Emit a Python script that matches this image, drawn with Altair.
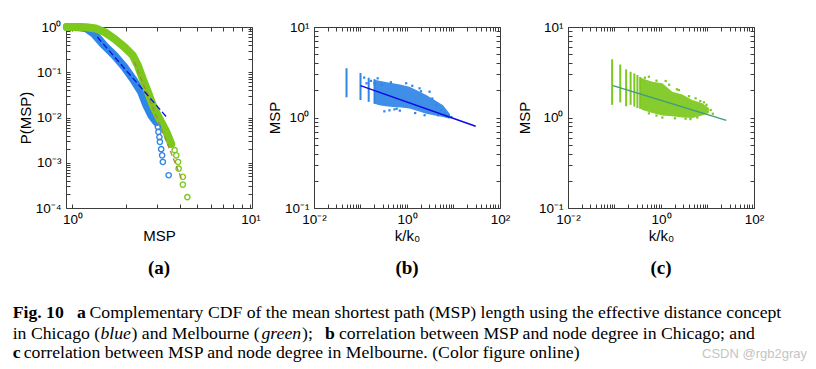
import altair as alt
import pandas as pd

# ---------------- Panel (a): complementary CDF of MSP ----------------
a_blue_msp = [0.93, 1.0, 1.1, 1.2, 1.32, 1.51, 1.72, 1.96, 2.18, 2.43, 2.60, 2.77, 2.96]
a_blue_p = [1.0, 1.0, 0.99, 0.93, 0.71, 0.39, 0.237, 0.13, 0.072, 0.037, 0.0186, 0.0112, 0.0079]
a_blue_tail_msp = [3.02, 3.04, 3.08, 3.10, 3.15, 3.19, 3.22, 3.47]
a_blue_tail_p = [0.0062, 0.0048, 0.0037, 0.0029, 0.0020, 0.00146, 0.00104, 0.00053]

a_green_msp = [0.93, 1.0, 1.2, 1.35, 1.51, 1.72, 1.96, 2.18, 2.33, 2.48, 2.65, 2.83, 3.08, 3.37, 3.59]
a_green_p = [1.0, 1.0, 0.99, 0.93, 0.78, 0.55, 0.36, 0.237, 0.142, 0.072, 0.037, 0.0186, 0.0094, 0.0048, 0.0026]
a_green_tail_msp = [3.75, 3.83, 3.92, 3.95, 4.17, 4.17, 4.42]
a_green_tail_p = [0.0019, 0.00146, 0.00104, 0.00074, 0.00049, 0.00033, 0.000174]

a_blue_fit_msp = [1.38, 3.44]
a_blue_fit_p = [0.6, 0.0094]
a_green_fit_msp = [2.23, 4.09]
a_green_fit_p = [0.168, 0.00045]

# ---------------- Panel (b): Chicago MSP vs k/k0 ----------------
b_stripe_k = [0.05, 0.10, 0.15, 0.20]
b_stripe_lo = [1.67, 1.56, 1.49, 1.42]
b_stripe_hi = [3.50, 3.10, 2.75, 2.65]
b_env_k = [0.2, 0.254, 0.35, 0.494, 0.75, 1.13, 1.7, 2.6, 4.0, 5.96, 8.3]
b_env_hi = [2.62, 2.54, 2.47, 2.39, 2.30, 2.19, 1.98, 1.77, 1.55, 1.37, 1.10]
b_env_lo = [1.42, 1.37, 1.33, 1.31, 1.29, 1.26, 1.18, 1.10, 1.05, 1.01, 0.97]
b_pts_k = [0.120, 0.135, 0.168, 0.198, 0.234, 0.290, 0.326, 0.419, 0.537, 0.96, 1.86, 3.06, 4.27, 5.48,
           7.04, 9.02, 4.64, 2.39, 1.3, 2.0, 3.5, 6.5, 8.0, 0.7, 1.5, 0.45, 0.6]
b_pts_msp = [2.76, 2.39, 2.54, 2.39, 2.71, 2.29, 1.17, 1.20, 1.23, 2.39, 2.10, 1.93, 1.37, 1.20,
             1.04, 1.01, 1.06, 1.06, 2.24, 1.95, 1.62, 1.12, 1.06, 1.19, 1.12, 2.45, 1.25]
b_fit_k = [0.1, 30.0]
b_fit_msp = [2.25, 0.80]

# ---------------- Panel (c): Melbourne MSP vs k/k0 ----------------
c_stripe_k = [0.089, 0.133, 0.178, 0.222, 0.267, 0.311, 0.356]
c_stripe_lo = [1.38, 1.47, 1.33, 1.38, 1.32, 1.27, 1.25]
c_stripe_hi = [4.40, 3.85, 3.40, 3.20, 3.07, 2.95, 2.80]
c_env_k = [0.37, 0.40, 0.65, 1.07, 1.75, 2.87, 4.71, 7.73, 10.7]
c_env_hi = [2.75, 2.70, 2.49, 2.39, 1.93, 1.80, 1.56, 1.44, 1.27]
c_env_lo = [1.25, 1.21, 1.12, 1.05, 1.03, 1.00, 0.99, 1.05, 1.12]
c_pts_k = [0.55, 1.26, 2.43, 5.55, 8.4, 11.7, 0.55, 1.07, 3.38, 6.03,
           0.45, 0.8, 1.5, 2.2, 4.0, 7.0, 9.5, 13.0, 0.8, 2.0, 4.3]
c_pts_msp = [2.82, 2.53, 2.01, 1.63, 1.47, 1.21, 1.11, 1.00, 0.97, 1.00,
             2.75, 2.55, 2.30, 2.05, 1.72, 1.52, 1.38, 1.10, 1.05, 0.98, 0.96]
c_fit_k = [0.093, 25.4]
c_fit_msp = [2.25, 0.93]

# ---------------- Caption ----------------
cap_text = ["Fig. 10", "a", "Complementary CDF of the mean shortest path (MSP) length using the effective distance concept",
            "in Chicago (", "blue", ") and Melbourne (", "green", ");", "b",
            "correlation between MSP and node degree in Chicago; and",
            "c", "correlation between MSP and node degree in Melbourne. (Color figure online)"]
cap_weight = ["bold", "bold", "normal", "normal", "normal", "normal", "normal", "normal", "bold", "normal", "bold", "normal"]
cap_style = ["normal", "normal", "normal", "normal", "italic", "normal", "italic", "normal", "normal", "normal", "normal", "normal"]
# layout: page x of each caption segment (reference pixels) and its line baseline
cap_px = [11.7, 76, 88.5, 11.7, 99.5, 130.5, 260.5, 301, 324, 338, 11.7, 22.7]
cap_y = [22, 22, 22, 43, 43, 43, 43, 43, 43, 43, 62, 62]
FRAME_LEFT = 65  # page x of panel (a) plot frame

BLUE = "#2f86e6"
BLUE_LINE = "#0a0ae6"
GREEN = "#7cc81c"
GREEN_LINE = "#3f9a80"
GREEN_DASH = "#a88a3c"
FRAME = "#3c3c3c"
SANS = "Liberation Sans"
SERIF = "Liberation Serif"
W, H = 186, 181
INWARD = {"expr": "-4"}

SUP = {-4: "\u207b\u2074", -3: "\u207b\u00b3", -2: "\u207b\u00b2", -1: "\u207b\u00b9",
       0: "\u2070", 1: "\u00b9", 2: "\u00b2"}


def label_expr(step=1):
    e = "''"
    for k, s in SUP.items():
        if k % step == 0:
            e = f"(round(log(datum.value)/LN10) == {k} ? '10{s}' : {e})"
    return f"abs(log(datum.value)/LN10 - round(log(datum.value)/LN10)) > 0.001 ? '' : {e}"


def log_values(e0, e1):
    vals = []
    for e in range(e0, e1):
        for m in range(1, 10):
            vals.append(round(m * 10.0 ** e, 10))
    vals.append(round(10.0 ** e1, 10))
    return vals


def lab_axis(title, values, orient, step=1, ytitle_pad=2):
    is_x = orient in ("bottom", "top")
    return alt.Axis(values=values, labelExpr=label_expr(step), title=title, grid=False,
                    domain=True, domainColor=FRAME, domainWidth=1,
                    ticks=True, tickSize=INWARD, tickColor=FRAME, tickWidth=1,
                    labelFont=SANS, labelFontSize=13.5, labelColor="black",
                    titleFont=SANS, titleFontSize=15, titleFontWeight="normal", titleColor="black",
                    labelPadding=8 if is_x else 9, titlePadding=3 if is_x else ytitle_pad,
                    orient=orient, labelFlush=False, labelOverlap=False)


def tick_axis(values, orient):
    return alt.Axis(values=values, labels=False, title=None, grid=False,
                    domain=True, domainColor=FRAME, domainWidth=1,
                    ticks=True, tickSize=INWARD, tickColor=FRAME, tickWidth=1, orient=orient)


def panel_title(t):
    return alt.Title(t, orient="bottom", font=SERIF, fontSize=19, fontWeight="bold", color="black", offset=15)


def with_box(data_layer, df, xf, yf, xs, ys, xv, yv):
    # top and right edges of the box, with inward ticks
    t1 = alt.Chart(df).mark_point(opacity=0).encode(
        x=alt.X(f"{xf}:Q", scale=xs, axis=tick_axis(xv, "top")),
        y=alt.Y(f"{yf}:Q", scale=ys, axis=tick_axis(yv, "right")))
    return alt.layer(data_layer, t1).resolve_scale(x="independent", y="independent")


# ---- panel a ----
xa = alt.Scale(type="log", domain=[0.92, 10.2])
ya = alt.Scale(type="log", domain=[0.0001, 1.0])
xa_v = log_values(0, 1)
ya_v = log_values(-4, 0)
xa_ax = lab_axis("MSP", xa_v, "bottom")
ya_ax = lab_axis("P(MSP)", ya_v, "left")

df_ab = pd.DataFrame({"msp": a_blue_msp, "p": a_blue_p})
df_ag = pd.DataFrame({"msp": a_green_msp, "p": a_green_p})
df_abt = pd.DataFrame({"msp": a_blue_tail_msp, "p": a_blue_tail_p})
df_agt = pd.DataFrame({"msp": a_green_tail_msp, "p": a_green_tail_p})
df_abf = pd.DataFrame({"msp": a_blue_fit_msp, "p": a_blue_fit_p})
df_agf = pd.DataFrame({"msp": a_green_fit_msp, "p": a_green_fit_p})

enc_a = dict(x=alt.X("msp:Q", scale=xa, axis=xa_ax), y=alt.Y("p:Q", scale=ya, axis=ya_ax))
a_data = alt.layer(
    alt.Chart(df_ab).mark_line(color=BLUE, strokeWidth=8, strokeCap="round", strokeJoin="round").encode(**enc_a),
    alt.Chart(df_ag).mark_line(color=GREEN, strokeWidth=8, strokeCap="round", strokeJoin="round").encode(**enc_a),
    alt.Chart(df_abt).mark_point(shape="circle", filled=False, color=BLUE, size=28, strokeWidth=1.4, opacity=1).encode(**enc_a),
    alt.Chart(df_agt).mark_point(shape="circle", filled=False, color=GREEN, size=28, strokeWidth=1.4, opacity=1).encode(**enc_a),
    alt.Chart(df_agf).mark_line(color=GREEN_DASH, strokeWidth=1.3, strokeDash=[5, 3]).encode(**enc_a),
    alt.Chart(df_abf).mark_line(color=BLUE_LINE, strokeWidth=1.3, strokeDash=[6, 3]).encode(**enc_a),
)
chart_a = with_box(a_data, df_abf.rename(columns={"msp": "tx", "p": "ty"}), "tx", "ty",
                   xa, ya, xa_v, ya_v).properties(width=W, height=H, title=panel_title("(a)"))


def scatter_panel(stripe_k, stripe_lo, stripe_hi, env_k, env_hi, env_lo, pts_k, pts_msp, fit_k, fit_msp,
                  col, line_col, lbl, ytitle_pad):
    xs = alt.Scale(type="log", domain=[0.01, 100])
    ys = alt.Scale(type="log", domain=[0.1, 10])
    xv = log_values(-2, 2)
    yv = log_values(-1, 1)
    xax = lab_axis("k/k\u2080", xv, "bottom", step=2)
    yax = lab_axis("MSP", yv, "left", ytitle_pad=ytitle_pad)
    d_st = pd.DataFrame({"k": stripe_k, "lo": stripe_lo, "hi": stripe_hi})
    d_env = pd.DataFrame({"k": env_k, "lo": env_lo, "hi": env_hi})
    d_pts = pd.DataFrame({"k": pts_k, "msp": pts_msp})
    d_fit = pd.DataFrame({"k": fit_k, "msp": fit_msp})
    X = alt.X("k:Q", scale=xs, axis=xax)
    data = alt.layer(
        alt.Chart(d_st).mark_rule(color=col, strokeWidth=2.0, opacity=1).encode(
            x=X, y=alt.Y("lo:Q", scale=ys, axis=yax), y2="hi:Q"),
        alt.Chart(d_env).mark_area(color=col, opacity=0.92).encode(
            x=X, y=alt.Y("hi:Q", scale=ys, axis=yax), y2="lo:Q"),
        alt.Chart(d_pts).mark_square(color=col, size=5, opacity=1).encode(
            x=X, y=alt.Y("msp:Q", scale=ys, axis=yax)),
        alt.Chart(d_fit).mark_line(color=line_col, strokeWidth=1.5).encode(
            x=X, y=alt.Y("msp:Q", scale=ys, axis=yax)),
    )
    return with_box(data, d_fit.rename(columns={"k": "tx", "msp": "ty"}), "tx", "ty",
                    xs, ys, xv, yv).properties(width=W, height=H, title=panel_title(lbl))


chart_b = scatter_panel(b_stripe_k, b_stripe_lo, b_stripe_hi, b_env_k, b_env_hi, b_env_lo,
                        b_pts_k, b_pts_msp, b_fit_k, b_fit_msp, BLUE, BLUE_LINE, "(b)", 2)
chart_c = scatter_panel(c_stripe_k, c_stripe_lo, c_stripe_hi, c_env_k, c_env_hi, c_env_lo,
                        c_pts_k, c_pts_msp, c_fit_k, c_fit_msp, GREEN, GREEN_LINE, "(c)", 6)

# ---- caption ----
cap_df = pd.DataFrame({"t": cap_text, "x": [p - FRAME_LEFT for p in cap_px], "y": cap_y,
                       "w": cap_weight, "s": cap_style})
cap_layers = []
for w in ["normal", "bold"]:
    for s in ["normal", "italic"]:
        sub = cap_df[(cap_df.w == w) & (cap_df.s == s)]
        if len(sub) == 0:
            continue
        cap_layers.append(
            alt.Chart(sub).mark_text(font=SERIF, fontSize=17.7, fontWeight=w, fontStyle=s, align="left",
                                     baseline="alphabetic", color="black").encode(
                x=alt.X("x:Q", scale=None), y=alt.Y("y:Q", scale=None), text="t:N"))
wm = pd.DataFrame({"t": ["CSDN @rgb2gray"]})
cap_layers.append(alt.Chart(wm).mark_text(font=SANS, fontSize=13, align="right", baseline="alphabetic",
                                          color="#c4c4c4").encode(
    x=alt.value(806 - FRAME_LEFT), y=alt.value(62), text="t:N"))
caption = alt.layer(*cap_layers).properties(width=700, height=66, view=alt.ViewConfig(stroke=None))

top = alt.hconcat(chart_a, chart_b, chart_c, spacing=5)
top = top.resolve_scale(x="independent", y="independent")
chart = alt.vconcat(top, caption, spacing=18).configure_view(stroke=None).configure(
    padding={"left": 4, "top": 11, "right": 0, "bottom": 0})
chart.save("out.html", embed_options={"renderer": "svg", "actions": False})
